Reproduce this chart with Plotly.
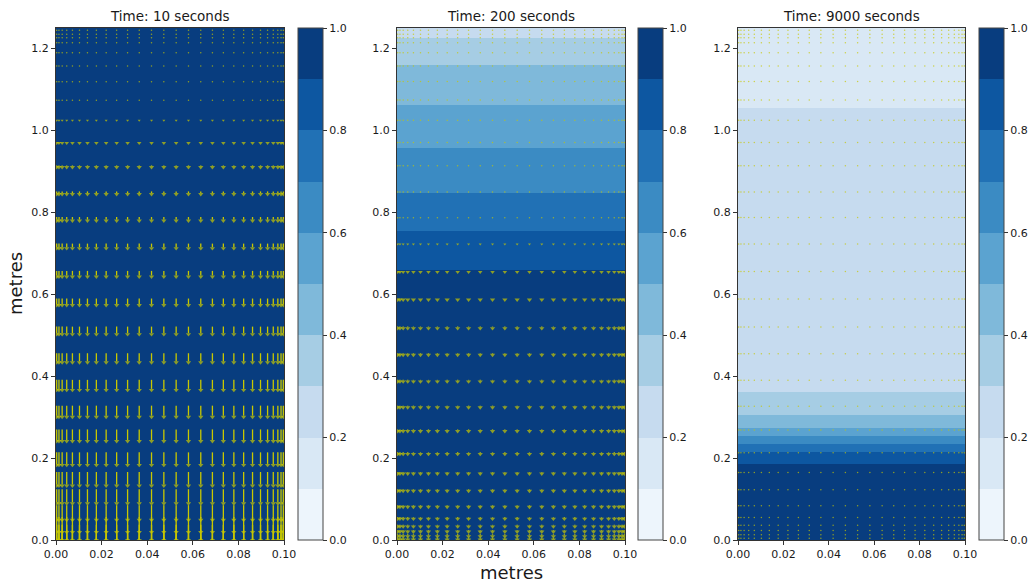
import plotly.graph_objects as go

# ---------------- data ----------------
panel_titles = ["Time: 10 seconds", "Time: 200 seconds", "Time: 9000 seconds"]

# concentration bands: heights (m) where the filled-contour band changes, and band level
band_edges_10s = [0.0, 1.25]
band_level_10s = [0.95]
band_edges_200s = [0.0, 0.660, 0.754, 0.847, 0.957, 1.063, 1.1585, 1.226, 1.25]
band_level_200s = [0.95, 0.85, 0.75, 0.65, 0.55, 0.45, 0.35, 0.25]
band_edges_9000s = [0.0, 0.1846, 0.2154, 0.234, 0.2537, 0.274, 0.3056, 0.361, 1.054, 1.25]
band_level_9000s = [0.95, 0.85, 0.75, 0.65, 0.55, 0.45, 0.35, 0.25, 0.15]

# quiver grid (m)
grid_x = [0.0003, 0.0013, 0.0027, 0.0047, 0.0072, 0.0103, 0.0138, 0.0177, 0.0220,
          0.0266, 0.0314, 0.0365, 0.0419, 0.0473, 0.0527, 0.0581, 0.0635, 0.0686,
          0.0734, 0.0780, 0.0823, 0.0862, 0.0897, 0.0928, 0.0953, 0.0973, 0.0987, 0.0997]
grid_y = [0.0055, 0.0139, 0.0245, 0.037, 0.056, 0.085, 0.124, 0.166, 0.214, 0.270,
          0.328, 0.391, 0.456, 0.521, 0.5895, 0.657, 0.7236, 0.7885, 0.851, 0.9146,
          0.9715, 1.026, 1.0756, 1.1203, 1.1585, 1.191, 1.2154, 1.2276, 1.236, 1.2456]

# downward velocity per grid row, as drawn arrow length (m)
speed_10s = [0.0427, 0.0427, 0.0427, 0.0427, 0.0427, 0.0415, 0.0403, 0.0390, 0.0366, 0.0342,
             0.0329, 0.0305, 0.0281, 0.0244, 0.0220, 0.0195, 0.0171, 0.0146, 0.0122, 0.0098,
             0.0073, 0.0049, 0.0037, 0.0029, 0.0024, 0.0024, 0.0024, 0.0024, 0.0024, 0.0024]
speed_200s = [0.0105, 0.0105, 0.0100, 0.0098, 0.0098, 0.0098, 0.0098, 0.0098, 0.0098, 0.0098,
              0.0098, 0.0098, 0.0098, 0.0098, 0.0085, 0.0073, 0.0049, 0.0037, 0.0024, 0.0024,
              0.0024, 0.0024, 0.0024, 0.0024, 0.0024, 0.0024, 0.0024, 0.0024, 0.0024, 0.0024]
speed_9000s = [0.0024] * 30
speeds = [speed_10s, speed_200s, speed_9000s]
band_edges = [band_edges_10s, band_edges_200s, band_edges_9000s]
band_levels = [band_level_10s, band_level_200s, band_level_9000s]

level_ticks = [0.0, 0.2, 0.4, 0.6, 0.8, 1.0]
x_ticks = [0.0, 0.02, 0.04, 0.06, 0.08, 0.10]
y_ticks = [0.0, 0.2, 0.4, 0.6, 0.8, 1.0, 1.2]

# ---------------- style ----------------
W, H = 1034, 585
band_colors = ["#edf5fc", "#d9e8f5", "#c6dbef", "#a6cde4", "#7fb9da",
               "#5ba3d0", "#3b8bc3", "#2171b5", "#0d57a1", "#083d7f"]
step_scale = []
for i, c in enumerate(band_colors):
    step_scale.append([i / 10, c])
    step_scale.append([(i + 1) / 10, c])

X_DOM = [(56 / W, 284 / W), (397 / W, 625 / W), (738 / W, 965 / W)]
CB_X = [298 / W, 638 / W, 979 / W]
Y_DOM = (45 / H, 557 / H)
PX_PER_Y = (Y_DOM[1] - Y_DOM[0]) * H / 1.25
FONT = "DejaVu Sans"
TXT = "#1a1a1a"
ARROW = "#c8c800"

fig = go.Figure()


def quiver(speed):
    lx, ly, hx, hy, hs, sym = [], [], [], [], [], []
    for yi, L in zip(grid_y, speed):
        lpx = L * PX_PER_Y
        if lpx < 1.6:
            for xi in grid_x:
                hx.append(xi); hy.append(yi - L / 2); hs.append(1.5); sym.append("circle")
            continue
        s = min(max(lpx / 0.75, 2.4), 4.6)
        r = s / 2
        tip = yi - L
        center = tip + r / PX_PER_Y
        base = center + (r / 2) / PX_PER_Y
        for xi in grid_x:
            hx.append(xi); hy.append(center); hs.append(s); sym.append("triangle-down")
            if base < yi:
                lx += [xi, xi, None]
                ly += [yi, base, None]
    return lx, ly, hx, hy, hs, sym


for k in range(3):
    xa = "x" if k == 0 else f"x{k + 1}"
    ya = "y" if k == 0 else f"y{k + 1}"
    fig.add_trace(go.Heatmap(
        x=[0.0, 0.1], y=band_edges[k], z=[[v] for v in band_levels[k]],
        zmin=0, zmax=1, colorscale=step_scale, xaxis=xa, yaxis=ya,
        hoverinfo="skip",
        colorbar=dict(
            x=CB_X[k], xanchor="left", xref="paper", y=Y_DOM[0], yanchor="bottom",
            len=Y_DOM[1] - Y_DOM[0], lenmode="fraction", thickness=25,
            thicknessmode="pixels", xpad=0, ypad=0,
            outlinecolor="#444", outlinewidth=1,
            tickvals=level_ticks, ticktext=[f"{v:.1f}" for v in level_ticks],
            ticks="outside", ticklen=4, tickwidth=1, tickcolor="#333",
            tickfont=dict(family=FONT, size=11, color=TXT),
        ),
    ))
    lx, ly, hx, hy, hs, sym = quiver(speeds[k])
    fig.add_trace(go.Scatter(x=lx, y=ly, mode="lines", xaxis=xa, yaxis=ya,
                             line=dict(color=ARROW, width=1.3), hoverinfo="skip",
                             showlegend=False))
    fig.add_trace(go.Scatter(x=hx, y=hy, mode="markers", xaxis=xa, yaxis=ya,
                             marker=dict(color=ARROW, size=hs, symbol=sym, line=dict(width=0)),
                             hoverinfo="skip", showlegend=False))

axis_common = dict(showline=True, linecolor="#333", linewidth=1, mirror=True,
                   ticks="outside", ticklen=4, tickwidth=1, tickcolor="#333",
                   showgrid=False, zeroline=False,
                   tickfont=dict(family=FONT, size=11, color=TXT))
layout = dict(width=W, height=H, margin=dict(l=0, r=0, t=0, b=0, autoexpand=False),
              paper_bgcolor="white", plot_bgcolor="white", showlegend=False)
for k in range(3):
    sx = "xaxis" if k == 0 else f"xaxis{k + 1}"
    sy = "yaxis" if k == 0 else f"yaxis{k + 1}"
    layout[sx] = dict(axis_common, domain=list(X_DOM[k]), range=[0, 0.1],
                      tickvals=x_ticks, ticktext=[f"{v:.2f}" for v in x_ticks],
                      anchor="y" if k == 0 else f"y{k + 1}")
    layout[sy] = dict(axis_common, domain=list(Y_DOM), range=[0, 1.25],
                      tickvals=y_ticks, ticktext=[f"{v:.1f}" for v in y_ticks],
                      anchor="x" if k == 0 else f"x{k + 1}")
fig.update_layout(**layout)

ann = []
for k in range(3):
    ann.append(dict(text=panel_titles[k], x=(X_DOM[k][0] + X_DOM[k][1]) / 2,
                    y=(H - 16) / H, xref="paper", yref="paper", showarrow=False,
                    xanchor="center", yanchor="middle",
                    font=dict(family=FONT, size=13.5, color=TXT)))
ann.append(dict(text="metres", x=(X_DOM[1][0] + X_DOM[1][1]) / 2, y=(H - 572) / H,
                xref="paper", yref="paper", showarrow=False, xanchor="center",
                yanchor="middle", font=dict(family=FONT, size=18, color=TXT)))
ann.append(dict(text="metres", x=15 / W, y=(H - 284) / H, xref="paper", yref="paper",
                showarrow=False, xanchor="center", yanchor="middle", textangle=-90,
                font=dict(family=FONT, size=18, color=TXT)))
fig.update_layout(annotations=ann)

fig.write_html("out.html")
